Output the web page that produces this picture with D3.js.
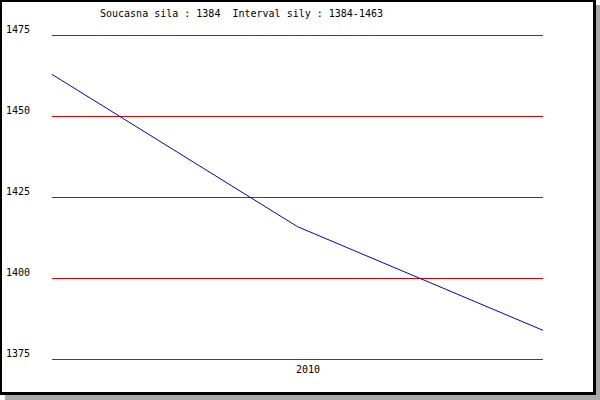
<!DOCTYPE html>
<html><head><meta charset="utf-8">
<script src="https://cdn.jsdelivr.net/npm/d3@7"></script>
<style>html,body{margin:0;padding:0;background:#fff;}svg{display:block;}</style>
</head><body>
<script>
const xValues = [0, 1, 2];
const seriesValues = [1463, 1416, 1384];
const yTicks = [1375, 1400, 1425, 1450, 1475];
const xTickValues = [1.043];
const xTickLabels = ["2010"];
const currentValue = 1384;
const intervalMin = 1384, intervalMax = 1463;

const W = 600, H = 400;
const svg = d3.select("body").append("svg").attr("width", W).attr("height", H);
const font = "'DejaVu Sans Mono', monospace";

// frame with shadow
svg.append("rect").attr("x",5).attr("y",5).attr("width",595).attr("height",395).attr("fill","#a8a8a8");
svg.append("rect").attr("x",0).attr("y",0).attr("width",596).attr("height",395).attr("fill","#000");
svg.append("rect").attr("x",2).attr("y",2).attr("width",591).attr("height",390).attr("fill","#fff");

const x = d3.scaleLinear().domain([0, 2]).range([52, 543]);
const y = d3.scaleLinear().domain([1375, 1475]).range([359.5, 35.5]);

// grid lines
svg.append("g").selectAll("line").data(yTicks).join("line")
  .attr("x1", 52).attr("x2", 543)
  .attr("y1", d => y(d)).attr("y2", d => y(d))
  .attr("stroke", "#dd0000").attr("stroke-width", 1)
  .attr("shape-rendering", "crispEdges");

// y labels
svg.append("g").selectAll("text").data(yTicks).join("text")
  .attr("x", 6).attr("y", d => y(d) - 2.5)
  .attr("font-family", font).attr("font-size", 10).attr("fill", "#000")
  .text(d => d);

// x labels
svg.append("g").selectAll("text").data(xTickValues).join("text")
  .attr("x", d => x(d)).attr("y", 373)
  .attr("text-anchor", "middle")
  .attr("font-family", font).attr("font-size", 10).attr("fill", "#000")
  .text((d, i) => xTickLabels[i]);

// series line
const line = d3.line().x((d, i) => x(xValues[i])).y(d => y(d));
svg.append("path").datum(seriesValues)
  .attr("d", line)
  .attr("fill", "none").attr("stroke", "#0000cc").attr("stroke-width", 1);

// title
svg.append("text").attr("x", 100).attr("y", 17)
  .attr("font-family", font).attr("font-size", 10).attr("fill", "#000")
  .attr("xml:space", "preserve").style("white-space", "pre")
  .text(`Soucasna sila : ${currentValue}  Interval sily : ${intervalMin}-${intervalMax}`);
</script>
</body></html>
